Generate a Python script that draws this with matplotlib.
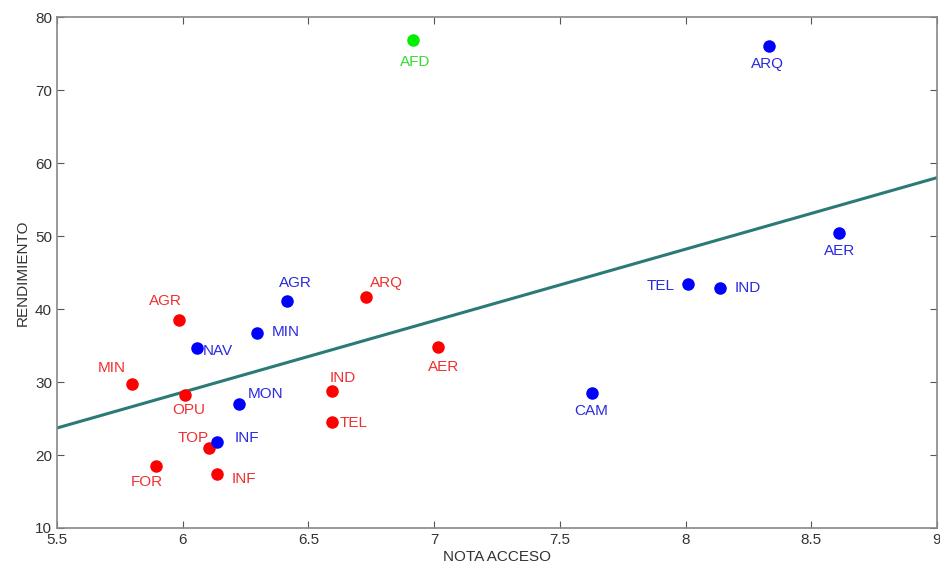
import matplotlib
matplotlib.use('Agg')
import matplotlib.pyplot as plt

plt.rcParams['font.family'] = ['Liberation Sans', 'DejaVu Sans']

# data
red_labels = ['AGR', 'MIN', 'OPU', 'TOP', 'FOR', 'INF', 'IND', 'TEL', 'ARQ', 'AER']
red_x = [5.985, 5.80, 6.01, 6.105, 5.894, 6.136, 6.594, 6.594, 6.729, 7.015]
red_y = [38.5, 29.7, 28.2, 21.0, 18.5, 17.4, 28.8, 24.5, 41.6, 34.8]

blue_labels = ['NAV', 'AGR', 'MIN', 'MON', 'INF', 'CAM', 'TEL', 'IND', 'AER', 'ARQ']
blue_x = [6.057, 6.415, 6.296, 6.224, 6.136, 7.628, 8.01, 8.137, 8.61, 8.332]
blue_y = [34.7, 41.1, 36.7, 27.0, 21.8, 28.5, 43.4, 42.9, 50.4, 76.0]

green_labels = ['AFD']
green_x = [6.916]
green_y = [76.85]

fit_x = [5.5, 9.0]
fit_y = [23.7, 58.0]

# label offsets in pixels (dx, dy up)
red_off = [(-14, 19), (-21, 16), (4, -15), (-16, 10), (-9, -16), (27, -5),
           (11, 13), (22, -1), (20, 14), (6, -20)]
blue_off = [(21, -3), (8, 18), (29, 1), (27, 10), (30, 4), (-1, -18),
            (-27, -2), (28, 0), (1, -18), (-2, -18)]
green_off = [(2, -22)]

fig = plt.figure(figsize=(9.4, 5.7), dpi=100)
ax = fig.add_axes([0.0606, 0.0737, 0.9362, 0.8963])

ax.plot(fit_x, fit_y, color='#2b7a76', lw=2.2, zorder=1)

groups = [
    (red_x, red_y, red_labels, red_off, '#ff0000', '#f03030'),
    (blue_x, blue_y, blue_labels, blue_off, '#0000ff', '#2a2ae0'),
    (green_x, green_y, green_labels, green_off, '#00ee00', '#33dd33'),
]
for xs, ys, labs, offs, c, tc in groups:
    ax.plot(xs, ys, 'o', color=c, ms=8, zorder=3)
    for x, y, lab, (dx, dy) in zip(xs, ys, labs, offs):
        ax.annotate(lab, (x, y), xytext=(dx * 0.72, dy * 0.72),
                    textcoords='offset points', ha='center', va='center',
                    color=tc, fontsize=11)

ax.set_xlim(5.5, 9)
ax.set_ylim(10, 80)
ax.set_xticks([5.5, 6, 6.5, 7, 7.5, 8, 8.5, 9])
ax.set_xticklabels(['5.5', '6', '6.5', '7', '7.5', '8', '8.5', '9'])
ax.set_yticks(range(10, 81, 10))
ax.tick_params(direction='in', top=True, right=True, length=5,
               color='#555555', labelcolor='#333333', labelsize=11)
for s in ax.spines.values():
    s.set_color('#888888')
    s.set_linewidth(1.2)

ax.set_xlabel('NOTA ACCESO', fontsize=11, color='#333333', labelpad=2)
ax.set_ylabel('RENDIMIENTO', fontsize=11, color='#333333', labelpad=4)

fig.savefig('out.png', dpi=100)
